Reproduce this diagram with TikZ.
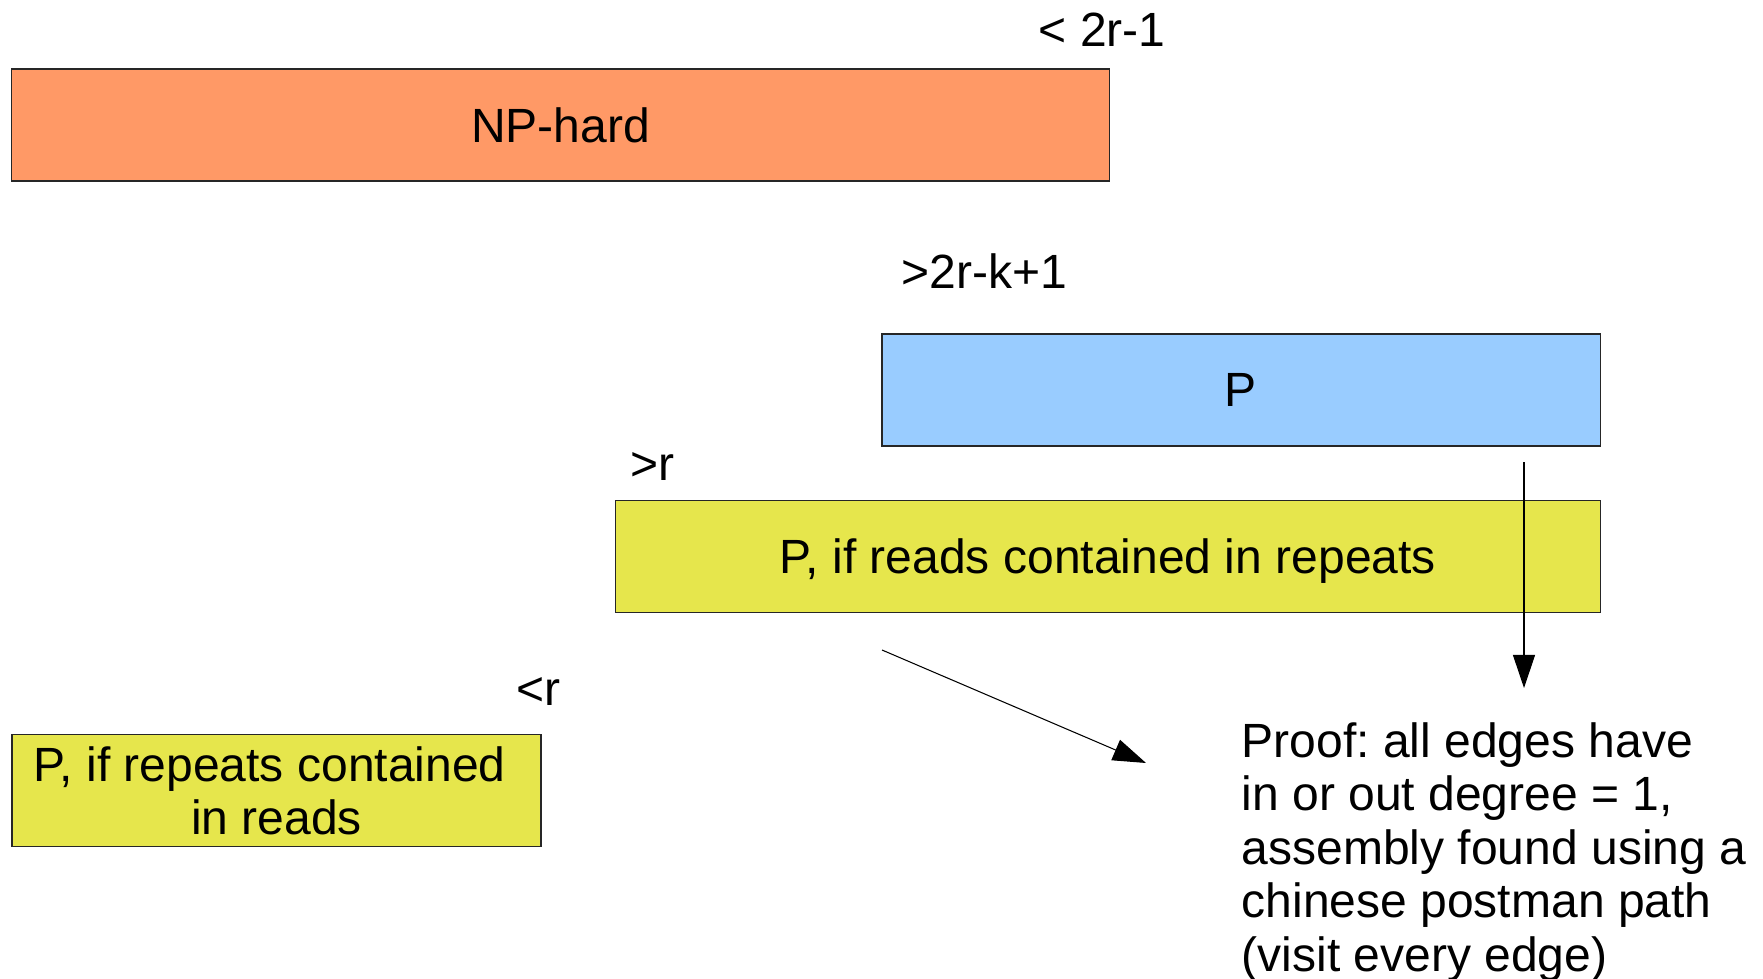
\documentclass[tikz,border=0pt]{standalone}
\usepackage{fontspec}
\setmainfont{Liberation Sans}
\frenchspacing
\usetikzlibrary{arrows.meta}
\definecolor{nporange}{RGB}{255,153,102}
\definecolor{pblue}{RGB}{153,204,255}
\definecolor{pyellow}{RGB}{230,230,76}
\begin{document}
\begin{tikzpicture}[x=0.01cm,y=-0.01cm,
    every node/.style={inner sep=0pt,font=\fontsize{13.66pt}{15.2pt}\selectfont},
    band/.style={draw=black!85,line width=0.4pt,align=center,minimum height=1.12cm,text depth=0pt},
    bound/.style={anchor=base west}]
  \useasboundingbox (0,0) rectangle (1763,979);
  \draw
    (560.5,125) node[band,fill=nporange,minimum width=10.97cm] (nphard){NP-hard}
    (1241,390) node[band,fill=pblue,minimum width=7.18cm] (poly){P}
    (1108,556.5) node[band,fill=pyellow,minimum width=9.84cm] (readsin){P, if reads contained in repeats}
    (276.5,790.5) node[band,fill=pyellow,minimum width=5.29cm] (repeatsin){P, if repeats contained\hspace*{0.28em}\\in reads}
    (1038,47) node[bound] (b1){< 2r-1}
    (901,289) node[bound] (b2){>2r-k+1}
    (630,480) node[bound] (b3){>r}
    (516,705) node[bound] (b4){<r}
    (1241,971) node[bound,align=left] (proof){Proof: all edges have\\in or out degree = 1,\\assembly found using a\\chinese postman path\\(visit every edge)};
  \coordinate (v0) at (1524,462);
  \coordinate (v1) at (1524,688);
  \coordinate (d0) at (882,650);
  \coordinate (d1) at (1146,763);
  \begin{scope}[-{Triangle[length=0.33cm,width=0.22cm]},line width=0.3pt]
    \draw (v0) to (v1);
    \draw (d0) to (d1);
  \end{scope}
\end{tikzpicture}
\end{document}
